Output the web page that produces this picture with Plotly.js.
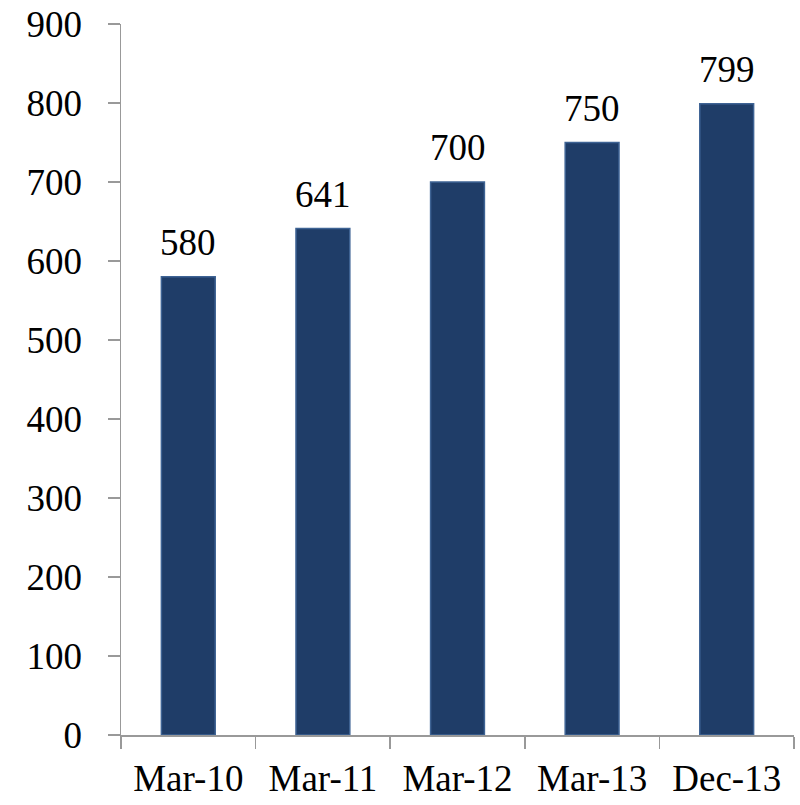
<!DOCTYPE html>
<html>
<head>
<meta charset="utf-8">
<script src="https://cdn.plot.ly/plotly-3.0.1.min.js"></script>
<style>
  html, body { margin: 0; padding: 0; background: #ffffff; }
  #chart { width: 800px; height: 805px; }
</style>
</head>
<body>
<div id="chart"></div>
<script>
// Period labels and values shown on the bars
const periods = ['Mar-10', 'Mar-11', 'Mar-12', 'Mar-13', 'Dec-13'];
const values = [580, 641, 700, 750, 799];
const yTicks = [0, 100, 200, 300, 400, 500, 600, 700, 800, 900];

const serif = 'Liberation Serif, Times New Roman, serif';

const trace = {
  type: 'bar',
  x: periods,
  y: values,
  marker: {
    color: '#1f3d68',
    line: { color: '#3e6394', width: 1.5 }
  },
  hoverinfo: 'none'
};

// Value labels above each bar
const labels = periods.map((p, i) => ({
  x: p,
  y: values[i],
  text: String(values[i]),
  showarrow: false,
  xanchor: 'center',
  yanchor: 'bottom',
  yshift: 12,
  font: { family: serif, size: 37, color: '#000000' }
}));

const layout = {
  width: 800,
  height: 805,
  margin: { l: 121, r: 6, t: 24, b: 70 },
  paper_bgcolor: '#ffffff',
  plot_bgcolor: '#ffffff',
  showlegend: false,
  bargap: 0.6,
  font: { family: serif, size: 37, color: '#000000' },
  xaxis: {
    type: 'category',
    showline: true,
    linecolor: '#999999',
    linewidth: 1.5,
    ticks: 'outside',
    tickson: 'boundaries',
    ticklen: 12,
    tickcolor: '#999999',
    tickwidth: 1.5,
    showgrid: false,
    ticklabelstandoff: 10,
    tickfont: { family: serif, size: 37, color: '#000000' }
  },
  yaxis: {
    range: [0, 900],
    tickmode: 'array',
    tickvals: yTicks,
    ticktext: yTicks.map(String),
    showline: true,
    linecolor: '#999999',
    linewidth: 1.5,
    ticks: 'outside',
    ticklen: 12,
    tickcolor: '#999999',
    tickwidth: 1.5,
    showgrid: false,
    zeroline: false,
    ticklabelstandoff: 18,
    tickfont: { family: serif, size: 37, color: '#000000' }
  },
  annotations: labels
};

Plotly.newPlot('chart', [trace], layout, { staticPlot: true, displayModeBar: false });
</script>
</body>
</html>
